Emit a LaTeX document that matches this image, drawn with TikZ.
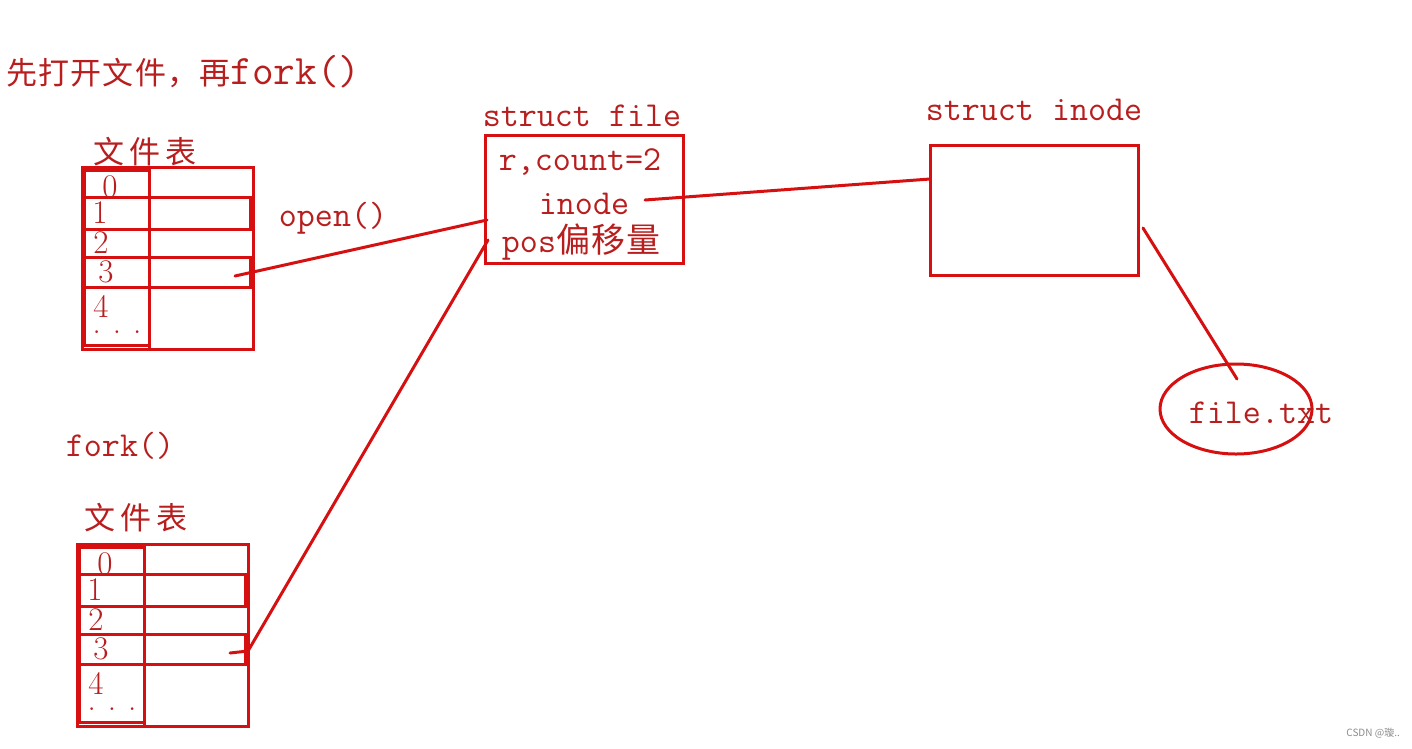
\documentclass[tikz,border=0pt]{standalone}
\usepackage{fontspec}
\newfontfamily\cjk{Noto Sans CJK SC}
\usetikzlibrary{shapes.geometric}
\definecolor{lred}{RGB}{214,16,16}
\definecolor{tred}{RGB}{184,30,30}
\tikzset{
  tline/.style={draw=lred, line width=3pt},
  conn/.style={draw=lred, line width=3pt, line cap=round},
  mono/.style={text=tred, inner sep=0pt, font=\fontsize{35}{38}\selectfont\ttfamily},
  cjktxt/.style={text=tred, inner sep=0pt, font=\fontsize{31}{34}\selectfont\cjk},
  digit/.style={text=tred, inner sep=0pt, font=\fontsize{33}{34}\selectfont\rmfamily},
  filetable/.pic={
    \draw[tline] (0,0) rectangle (171,182);
    \draw[tline] (2,3) rectangle (67,178);
    \draw[tline] (67,0) -- (67,182);
    \draw[tline] (2,30) rectangle (168,62);
    \draw[tline] (0,62) -- (171,62);
    \draw[tline] (2,90) rectangle (168,120);
    \node[coordinate] (-c3) at (153,109) {};
    \node[coordinate] (-edge) at (171,107) {};
    \node[digit] (-d0) at (28,20) {0};
    \node[digit] (-d1) at (18,46) {1};
    \node[digit] (-d2) at (19,76) {2};
    \node[digit] (-d3) at (24,105) {3};
    \node[digit] (-d4) at (19,139) {4};
    \node[digit, anchor=base] (-dots) at (35,166) {.\hspace{12pt}.\hspace{12pt}.};
  }
}
\begin{document}
\begin{tikzpicture}[x=1pt,y=-1pt]
\useasboundingbox (0,0) rectangle (1412,748);
\fill[white] (0,0) rectangle (1412,748);

% title
\node[anchor=west, text=tred, inner sep=0pt] (title) at (6,72)
  {{\cjk\fontsize{31}{34}\selectfont\addfontfeature{LetterSpace=4}先打开文件，再}{\fontsize{42}{44}\selectfont\ttfamily\addfontfeature{LetterSpace=10}fork()}};

% tables
\pic (t1) at (82,167) {filetable};
\node[cjktxt] (lab1) at (145,152) {文\,件\,表};
\node[mono] (open) at (333,218) {open()};
\node[mono] (forkl) at (120,446) {fork()};
\pic (t2) at (77,544) {filetable};
\node[cjktxt] (lab2) at (136,518) {文\,件\,表};

% struct file
\node[tline, minimum width=198pt, minimum height=128pt, inner sep=0pt] (sfile) at (584,199) {};
\node[mono] (sfilet) at (582,116) {struct file};
\node[mono] (cnt) at (580,162) {r,count=2};
\node[mono] (ino) at (584,204) {inode};
\node[text=tred, inner sep=0pt] (pos) at (581,242)
  {{\fontsize{35}{38}\selectfont\ttfamily pos}{\cjk\fontsize{34}{36}\selectfont\addfontfeature{LetterSpace=3}偏移量}};
\node[coordinate] (f1) at (487,220) {};
\node[coordinate] (f2) at (488,240) {};
\node[coordinate] (inodept) at (645,200) {};

% struct inode
\node[tline, minimum width=208pt, minimum height=130pt, inner sep=0pt] (sinode) at (1034,210) {};
\node[mono] (sinodet) at (1034,110) {struct inode};
\node[coordinate] (in1) at (930,179) {};
\node[coordinate] (out1) at (1143,228) {};

% file.txt
\node[ellipse, tline, minimum width=152pt, minimum height=90pt, inner sep=0pt] (ell) at (1236,409) {};
\node[mono] (ftxt) at (1261,413) {file.txt};
\node[coordinate] (ellin) at (1237,379) {};

% connectors
\draw[conn] (t1-c3) -- (f1);
\draw[conn] (t2-c3) -- (t2-edge) -- (f2);
\draw[conn] (inodept) -- (in1);
\draw[conn] (out1) -- (ellin);

% watermark
\node[anchor=east, text=black!45, inner sep=0pt, font=\fontsize{10}{12}\selectfont\cjk] (wm) at (1400,733) {CSDN @璇..};
\end{tikzpicture}
\end{document}
